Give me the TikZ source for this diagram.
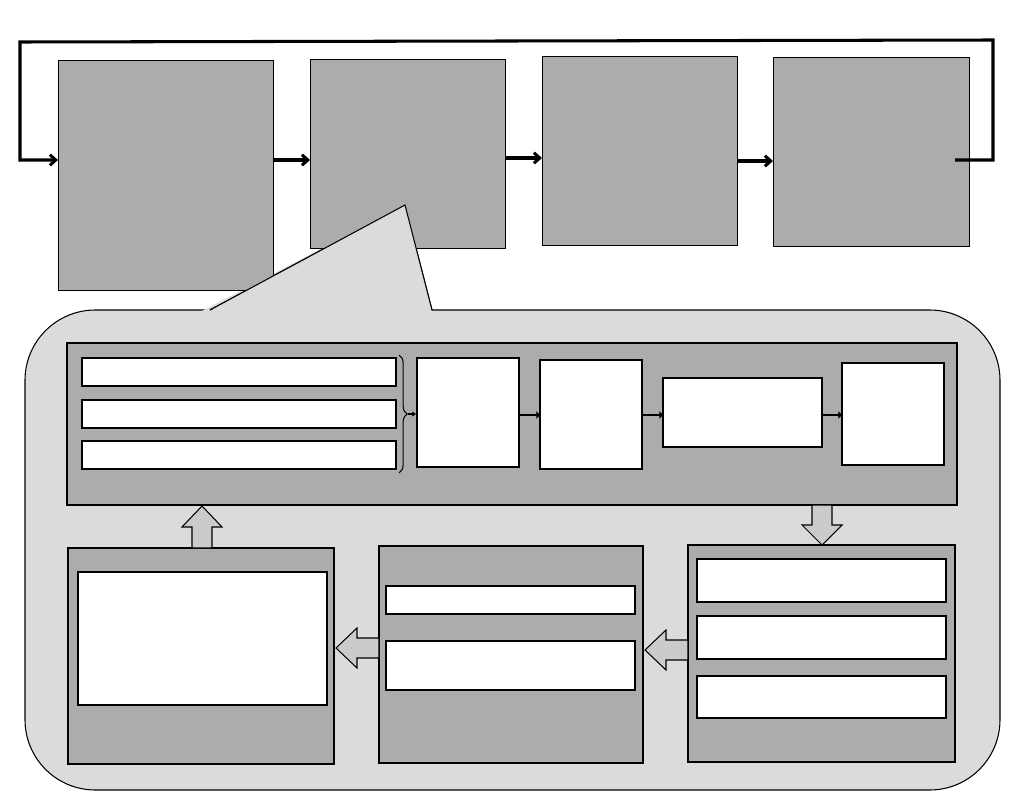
\documentclass[tikz,border=0pt]{standalone}
\usetikzlibrary{arrows.meta,decorations.pathreplacing}
\begin{document}
\begin{tikzpicture}[x=0.03cm,y=-0.03cm,
  gbox/.style={draw=black,fill=gray!65,line width=0.9pt},
  wbox/.style={draw=black,fill=white,line width=0.9pt},
  big/.style={line width=2.6pt,-{Straight Barb[length=5pt,width=9pt]}},
  small/.style={line width=2.4pt,-{Triangle[length=3pt,width=6pt]}},
  blk/.style={draw=black,fill=gray!110!black!45,line width=0.9pt}]
\useasboundingbox (0,0) rectangle (1024,812);
\fill[white] (0,0) rectangle (1024,812);
% callout
\draw[fill=gray!28,line width=0.9pt,rounded corners=60] (25,310) rectangle (1000,790);
\fill[gray!28] (200,312) -- (405,205) -- (432,312) -- cycle;
\draw[line width=0.9pt] (210,310) -- (405,205) -- (432,310);
% top boxes
\node[gbox,minimum width=215*0.03cm,minimum height=230*0.03cm,anchor=north west,inner sep=0] (b1) at (58,60) {};
\node[gbox,minimum width=195*0.03cm,minimum height=189*0.03cm,anchor=north west,inner sep=0] (b2) at (310,59) {};
\node[gbox,minimum width=195*0.03cm,minimum height=189*0.03cm,anchor=north west,inner sep=0] (b3) at (542,56) {};
\node[gbox,minimum width=196*0.03cm,minimum height=189*0.03cm,anchor=north west,inner sep=0] (b4) at (773,57) {};
% redraw callout tip over b2
\fill[gray!28] (212,309) -- (405,205) -- (432,309) -- cycle;
\draw[line width=0.9pt] (210,310) -- (405,205) -- (432,310);
\draw[line width=0.9pt,fill=gray!28,draw=none] (215,309) rectangle (430,312);
\coordinate (fbA) at (955,160);
\draw[big] (fbA) -- (993,160) -- (993,40) -- (20,42) -- (20,160) -- (b1.west|-0,160);
\draw[big] (273,160) -- (310,160);
\draw[big] (505,158) -- (542,158);
\draw[big] (737,161) -- (773,161);
% inner top panel
\draw[gbox] (67,343) rectangle (957,505);
\draw[wbox] (82,358) rectangle (396,386);
\draw[wbox] (82,400) rectangle (396,428);
\draw[wbox] (82,441) rectangle (396,469);
\draw[line width=0.9pt,decorate,decoration={brace,amplitude=7pt}] (399,355) -- (399,473);
\draw[line width=0.9pt,-{Triangle[length=3pt,width=4pt]}] (408,414) -- (416,414);
\draw[wbox] (417,358) rectangle (519,467);
\draw[wbox] (540,360) rectangle (642,469);
\draw[wbox] (663,378) rectangle (822,447);
\draw[wbox] (842,363) rectangle (944,465);
\draw[small] (519,415) -- (540,415);
\draw[small] (642,415) -- (663,415);
\draw[small] (822,415) -- (842,415);
% bottom panels
\draw[gbox] (68,548) rectangle (334,764);
\draw[wbox] (78,572) rectangle (327,705);
\draw[gbox] (379,546) rectangle (643,763);
\draw[wbox] (386,586) rectangle (635,614);
\draw[wbox] (386,641) rectangle (635,690);
\draw[gbox] (688,545) rectangle (955,762);
\draw[wbox] (697,559) rectangle (946,602);
\draw[wbox] (697,616) rectangle (946,659);
\draw[wbox] (697,676) rectangle (946,718);
% block arrows
\draw[blk] (812,505) -- (832,505) -- (832,525) -- (842,525) -- (822,545) -- (802,525) -- (812,525) -- cycle;
\draw[blk] (688,640) -- (688,660) -- (666,660) -- (666,670) -- (645,650) -- (666,630) -- (666,640) -- cycle;
\draw[blk] (379,638) -- (379,658) -- (357,658) -- (357,668) -- (336,648) -- (357,628) -- (357,638) -- cycle;
\draw[blk] (192,548) -- (212,548) -- (212,527) -- (222,527) -- (202,506) -- (182,527) -- (192,527) -- cycle;
\end{tikzpicture}
\end{document}
